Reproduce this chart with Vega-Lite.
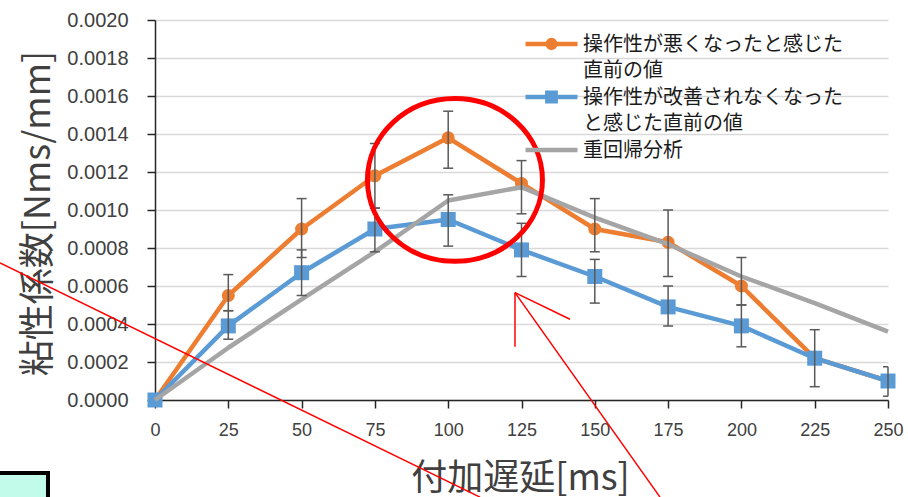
{
  "$schema": "https://vega.github.io/schema/vega-lite/v6.json",
  "width": 733,
  "height": 380,
  "autosize": {"type": "none"},
  "padding": {"left": 155, "top": 20, "right": 20, "bottom": 97},
  "background": "white",
  "config": {"view": {"stroke": null}, "font": "Noto Sans CJK JP"},
  "datasets": {
    "series": [
      {"series": "操作性が悪くなったと感じた直前の値", "delay": 0, "value": 0, "lo": null, "hi": null},
      {"series": "操作性が悪くなったと感じた直前の値", "delay": 25, "value": 0.00055, "lo": 0.00047, "hi": 0.00066},
      {"series": "操作性が悪くなったと感じた直前の値", "delay": 50, "value": 0.0009, "lo": 0.00075, "hi": 0.00106},
      {"series": "操作性が悪くなったと感じた直前の値", "delay": 75, "value": 0.00118, "lo": 0.00101, "hi": 0.00135},
      {"series": "操作性が悪くなったと感じた直前の値", "delay": 100, "value": 0.00138, "lo": 0.00122, "hi": 0.00152},
      {"series": "操作性が悪くなったと感じた直前の値", "delay": 125, "value": 0.00114, "lo": 0.00098, "hi": 0.00126},
      {"series": "操作性が悪くなったと感じた直前の値", "delay": 150, "value": 0.0009, "lo": 0.00078, "hi": 0.00106},
      {"series": "操作性が悪くなったと感じた直前の値", "delay": 175, "value": 0.00083, "lo": 0.00065, "hi": 0.001},
      {"series": "操作性が悪くなったと感じた直前の値", "delay": 200, "value": 0.0006, "lo": 0.0005, "hi": 0.00075},
      {"series": "操作性が悪くなったと感じた直前の値", "delay": 225, "value": 0.00022, "lo": 0.00007, "hi": 0.00037},
      {"series": "操作性が悪くなったと感じた直前の値", "delay": 250, "value": 0.0001, "lo": null, "hi": null},
      {"series": "操作性が改善されなくなったと感じた直前の値", "delay": 0, "value": 0, "lo": null, "hi": null},
      {"series": "操作性が改善されなくなったと感じた直前の値", "delay": 25, "value": 0.00039, "lo": 0.00032, "hi": 0.00047},
      {"series": "操作性が改善されなくなったと感じた直前の値", "delay": 50, "value": 0.00067, "lo": 0.00055, "hi": 0.00079},
      {"series": "操作性が改善されなくなったと感じた直前の値", "delay": 75, "value": 0.0009, "lo": 0.00078, "hi": 0.00101},
      {"series": "操作性が改善されなくなったと感じた直前の値", "delay": 100, "value": 0.00095, "lo": 0.00081, "hi": 0.00108},
      {"series": "操作性が改善されなくなったと感じた直前の値", "delay": 125, "value": 0.00079, "lo": 0.00065, "hi": 0.00093},
      {"series": "操作性が改善されなくなったと感じた直前の値", "delay": 150, "value": 0.00065, "lo": 0.00051, "hi": 0.00074},
      {"series": "操作性が改善されなくなったと感じた直前の値", "delay": 175, "value": 0.00049, "lo": 0.00039, "hi": 0.0006},
      {"series": "操作性が改善されなくなったと感じた直前の値", "delay": 200, "value": 0.00039, "lo": 0.00028, "hi": 0.0005},
      {"series": "操作性が改善されなくなったと感じた直前の値", "delay": 225, "value": 0.00022, "lo": null, "hi": null},
      {"series": "操作性が改善されなくなったと感じた直前の値", "delay": 250, "value": 0.0001, "lo": 0.00002, "hi": 0.000175},
      {"series": "重回帰分析", "delay": 0, "value": 0, "lo": null, "hi": null},
      {"series": "重回帰分析", "delay": 25, "value": 0.000275, "lo": null, "hi": null},
      {"series": "重回帰分析", "delay": 50, "value": 0.00053, "lo": null, "hi": null},
      {"series": "重回帰分析", "delay": 75, "value": 0.00078, "lo": null, "hi": null},
      {"series": "重回帰分析", "delay": 100, "value": 0.00105, "lo": null, "hi": null},
      {"series": "重回帰分析", "delay": 125, "value": 0.00112, "lo": null, "hi": null},
      {"series": "重回帰分析", "delay": 150, "value": 0.00096, "lo": null, "hi": null},
      {"series": "重回帰分析", "delay": 175, "value": 0.00082, "lo": null, "hi": null},
      {"series": "重回帰分析", "delay": 200, "value": 0.00065, "lo": null, "hi": null},
      {"series": "重回帰分析", "delay": 225, "value": 0.00051, "lo": null, "hi": null},
      {"series": "重回帰分析", "delay": 250, "value": 0.00036, "lo": null, "hi": null}
    ],
    "redlines": [
      {"x": -52.86, "y": 0.000721, "x2": 110.85, "y2": -0.000511},
      {"x": 122.78, "y": 0.000565, "x2": 172.24, "y2": -0.000511},
      {"x": 122.78, "y": 0.000565, "x2": 122.78, "y2": 0.00028},
      {"x": 122.78, "y": 0.000565, "x2": 141.54, "y2": 0.000425}
    ],
    "redcircle": [{"x": 102.3, "y": 0.001158}],
    "box": [{"x": -54.6, "x2": -36.5, "y": -0.000384, "y2": -0.00056}]
  },
  "encoding": {
    "x": {
      "field": "delay", "type": "quantitative",
      "scale": {"domain": [0, 250], "nice": false, "zero": false},
      "axis": {
        "title": "付加遅延[ms]",
        "values": [0, 25, 50, 75, 100, 125, 150, 175, 200, 225, 250],
        "format": "d", "grid": false,
        "tickSize": 8, "tickWidth": 1.5, "tickColor": "#262626",
        "domainColor": "#262626", "domainWidth": 1.5,
        "labelFont": "Liberation Sans", "labelFontSize": 18, "labelColor": "#404040",
        "labelPadding": 13, "labelFlush": false, "labelOverlap": false,
        "titleFont": "Noto Sans CJK JP", "titleFontSize": 36, "titleFontWeight": "normal",
        "titleColor": "#404040", "titleBaseline": "alphabetic", "titleY": 89, "titleX": 365
      }
    },
    "y": {
      "field": "value", "type": "quantitative",
      "scale": {"domain": [0, 0.002], "nice": false, "zero": false},
      "axis": {
        "title": "粘性係数[Nms/mm]",
        "values": [0, 0.0002, 0.0004, 0.0006, 0.0008, 0.001, 0.0012, 0.0014, 0.0016, 0.0018, 0.002],
        "format": ".4f", "grid": true, "gridColor": "#d9d9d9", "gridWidth": 1.5,
        "tickSize": 8, "tickWidth": 1.5, "tickColor": "#262626",
        "domainColor": "#262626", "domainWidth": 1.5,
        "labelFont": "Liberation Sans", "labelFontSize": 20, "labelColor": "#404040",
        "labelPadding": 19, "labelFlush": false, "labelOverlap": false,
        "titleFont": "Noto Sans CJK JP", "titleFontSize": 36, "titleFontWeight": "normal",
        "titleColor": "#404040", "titleBaseline": "middle", "titleX": -117, "titleY": 193, "titleAngle": -90
      }
    }
  },
  "layer": [
    {
      "data": {"name": "series"},
      "transform": [{"filter": "datum.series === '操作性が悪くなったと感じた直前の値'"}],
      "mark": {"type": "line", "strokeWidth": 4.5, "strokeJoin": "round", "strokeCap": "round"},
      "encoding": {
        "color": {
          "field": "series", "type": "nominal",
          "scale": {
            "domain": ["操作性が悪くなったと感じた直前の値", "操作性が改善されなくなったと感じた直前の値", "重回帰分析"],
            "range": ["#ED7D31", "#5B9BD5", "#A5A5A5"]
          },
          "legend": {
            "orient": "none", "legendX": 368, "legendY": 12, "title": null, "padding": 0,
            "symbolSize": 2704, "symbolStrokeWidth": 4.5, "labelOffset": 3,
            "labelFont": "Noto Sans CJK JP", "labelFontSize": 20, "labelColor": "#1a1a1a",
            "labelLimit": 500, "rowPadding": 0, "clipHeight": 53, "labelBaseline": "alphabetic",
            "labelExpr": "datum.value === '操作性が悪くなったと感じた直前の値' ? ['操作性が悪くなったと感じた', '直前の値'] : datum.value === '操作性が改善されなくなったと感じた直前の値' ? ['操作性が改善されなくなった', 'と感じた直前の値'] : datum.label",
            "encode": {
              "symbols": {
                "update": {
                  "shape": {"signal": "datum.value === '操作性が悪くなったと感じた直前の値' ? 'M-1,0H1M-0.15,0A0.15,0.15,0,1,0,0.15,0A0.15,0.15,0,1,0,-0.15,0Z' : datum.value === '操作性が改善されなくなったと感じた直前の値' ? 'M-1,0H1M-0.16,-0.16H0.16V0.16H-0.16Z' : 'M-1,0H1'"},
                  "fill": {"scale": "color", "field": "value"},
                  "stroke": {"scale": "color", "field": "value"},
                  "strokeWidth": {"value": 4.5},
                  "y": {"value": 12},
                  "opacity": {"value": 1}
                }
              },
              "labels": {
                "update": {
                  "y": {"value": 19},
                  "lineHeight": {"value": 26}
                }
              }
            }
          }
        }
      }
    },
    {
      "data": {"name": "series"},
      "transform": [{"filter": "datum.series === '操作性が悪くなったと感じた直前の値'"}],
      "mark": {"type": "point", "shape": "circle", "filled": true, "size": 170, "color": "#ED7D31", "opacity": 1}
    },
    {
      "data": {"name": "series"},
      "transform": [{"filter": "datum.series === '操作性が改善されなくなったと感じた直前の値'"}],
      "mark": {"type": "line", "strokeWidth": 4.5, "strokeJoin": "round", "strokeCap": "round"},
      "encoding": {
        "color": {"field": "series", "type": "nominal"}
      }
    },
    {
      "data": {"name": "series"},
      "transform": [{"filter": "datum.series === '操作性が改善されなくなったと感じた直前の値'"}],
      "mark": {"type": "point", "shape": "square", "filled": true, "size": 225, "color": "#5B9BD5", "opacity": 1}
    },
    {
      "data": {"name": "series"},
      "transform": [{"filter": "datum.series === '重回帰分析'"}],
      "mark": {"type": "line", "strokeWidth": 4.5, "strokeJoin": "round", "strokeCap": "butt"},
      "encoding": {
        "color": {"field": "series", "type": "nominal"}
      }
    },
    {
      "data": {"name": "series"},
      "transform": [{"filter": "isValid(datum.lo)"}],
      "mark": {"type": "rule", "color": "#595959", "strokeWidth": 1.5},
      "encoding": {
        "y": {"field": "lo", "type": "quantitative"},
        "y2": {"field": "hi"}
      }
    },
    {
      "data": {"name": "series"},
      "transform": [{"filter": "isValid(datum.lo)"}],
      "mark": {"type": "tick", "orient": "horizontal", "color": "#595959", "size": 10, "thickness": 1.5, "opacity": 1, "clip": true},
      "encoding": {
        "y": {"field": "lo", "type": "quantitative"}
      }
    },
    {
      "data": {"name": "series"},
      "transform": [{"filter": "isValid(datum.hi)"}],
      "mark": {"type": "tick", "orient": "horizontal", "color": "#595959", "size": 10, "thickness": 1.5, "opacity": 1, "clip": true},
      "encoding": {
        "y": {"field": "hi", "type": "quantitative"}
      }
    },
    {
      "data": {"name": "redcircle"},
      "mark": {"type": "point", "shape": "M-1,0A1,0.93,0,1,0,1,0A1,0.93,0,1,0,-1,0Z", "size": 30625, "filled": false, "color": "#ff0000", "strokeWidth": 5, "opacity": 1, "clip": false},
      "encoding": {
        "x": {"field": "x", "type": "quantitative"},
        "y": {"field": "y", "type": "quantitative"}
      }
    },
    {
      "data": {"name": "redlines"},
      "mark": {"type": "rule", "color": "#ff0000", "strokeWidth": 1.5, "clip": false},
      "encoding": {
        "x": {"field": "x", "type": "quantitative"},
        "y": {"field": "y", "type": "quantitative"},
        "x2": {"field": "x2"},
        "y2": {"field": "y2"}
      }
    },
    {
      "data": {"name": "box"},
      "mark": {"type": "rect", "fill": "#c3fbeb", "stroke": "#000000", "strokeWidth": 4, "clip": false},
      "encoding": {
        "x": {"field": "x", "type": "quantitative"},
        "x2": {"field": "x2"},
        "y": {"field": "y", "type": "quantitative"},
        "y2": {"field": "y2"}
      }
    }
  ]
}
